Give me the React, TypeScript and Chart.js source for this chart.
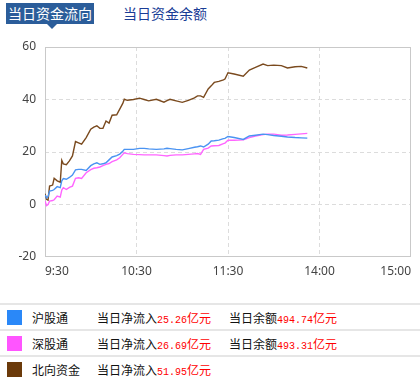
import React, { useEffect, useRef } from "react";
import { Chart, registerables } from "chart.js";

Chart.register(...registerables);

// minutes since 9:30 (trading minutes; 11:30 and 13:00 share position 120)
const minutes = [0, 1, 2, 3, 5, 6, 8, 10, 11, 12, 14, 16, 18, 20, 22, 24, 27, 30, 32, 34, 36, 38, 40, 42, 44, 47, 49, 51, 52, 54, 58, 62, 65, 68, 73, 78, 80, 82, 86, 90, 94, 98, 100, 102, 104, 107, 109, 111, 114, 117, 118, 120, 124, 130, 134, 138, 143, 146, 150, 155, 159, 164, 168, 172];
const northbound = [4.1, 2.0, 1.7, 7.0, 7.4, 10.0, 9.0, 8.5, 16.8, 15.5, 15.2, 16.6, 18.5, 24.0, 23.5, 23.0, 25.5, 28.7, 29.5, 30.0, 29.0, 29.0, 31.8, 31.0, 34.0, 34.2, 36.3, 38.5, 40.1, 39.7, 40.0, 40.5, 40.0, 39.5, 40.1, 39.0, 39.6, 40.1, 39.5, 38.9, 39.7, 40.6, 41.4, 41.4, 40.8, 44.0, 45.2, 46.5, 46.9, 47.5, 47.8, 50.2, 49.7, 48.9, 51.2, 52.2, 53.5, 52.9, 53.1, 52.9, 52.0, 52.5, 52.6, 52.0];
const shanghai = [3.6, 2.5, 3.0, 5.1, 5.4, 5.7, 6.8, 6.4, 9.0, 9.9, 9.6, 10.3, 11.2, 13.2, 13.4, 13.4, 13.0, 14.8, 15.5, 15.9, 15.3, 15.5, 15.9, 17.0, 18.1, 18.6, 19.2, 20.3, 21.0, 21.0, 21.0, 21.4, 21.4, 21.2, 21.0, 21.2, 21.4, 21.3, 21.0, 20.8, 21.3, 21.8, 22.0, 22.3, 21.9, 23.0, 24.2, 24.3, 24.5, 25.1, 25.2, 25.9, 25.5, 24.8, 26.1, 26.4, 26.8, 26.6, 26.3, 26.0, 25.7, 25.5, 25.4, 25.3];
const shenzhen = [1.3, -0.4, 0.0, 1.3, 1.5, 1.8, 3.2, 2.8, 5.5, 6.4, 5.7, 6.5, 7.0, 10.0, 10.2, 9.9, 12.1, 13.3, 13.8, 14.0, 14.3, 14.8, 15.3, 15.6, 16.3, 17.0, 17.8, 19.1, 19.7, 19.4, 19.1, 19.0, 18.9, 18.9, 18.9, 18.6, 18.5, 18.7, 18.9, 18.9, 19.1, 19.3, 19.4, 19.1, 21.0, 21.5, 22.3, 22.4, 22.5, 23.2, 23.4, 24.5, 24.5, 24.6, 25.5, 26.1, 26.6, 26.8, 26.8, 26.4, 26.5, 26.7, 26.9, 27.1];

const xTickValues = [0, 60, 120, 180, 240];
const xTickLabels = ["9:30", "10:30", "11:30", "14:00", "15:00"];
const yMin = -20;
const yMax = 60;
const yStep = 20;

const seriesNames = ["沪股通", "深股通", "北向资金"];
const seriesColors = ["#4a93f2", "#ff66ff", "#7a4a1e"];
const legendColors = ["#2a88f8", "#ff55ff", "#6b3a0a"];
const netInflow = ["25.26", "26.69", "51.95"];
const balances = ["494.74", "493.31", ""];

const borderBox = {
  id: "borderBox",
  beforeDatasetsDraw(chart: any) {
    const { ctx, chartArea } = chart;
    ctx.save();
    ctx.strokeStyle = "#c9c9c9";
    ctx.lineWidth = 1;
    ctx.strokeRect(
      Math.round(chartArea.left) + 0.5,
      Math.round(chartArea.top) + 0.5,
      Math.round(chartArea.right - chartArea.left) - 1,
      Math.round(chartArea.bottom - chartArea.top) - 1
    );
    ctx.restore();
  },
};

function FlowChart() {
  const ref = useRef<HTMLCanvasElement>(null);
  useEffect(() => {
    if (!ref.current) return;
    const mk = (vals: number[]) => vals.map((v, i) => ({ x: minutes[i], y: v }));
    const chart = new Chart(ref.current, {
      type: "line",
      data: {
        datasets: [
          { label: seriesNames[0], data: mk(shanghai), borderColor: seriesColors[0], borderWidth: 1.4 },
          { label: seriesNames[1], data: mk(shenzhen), borderColor: seriesColors[1], borderWidth: 1.4 },
          { label: seriesNames[2], data: mk(northbound), borderColor: seriesColors[2], borderWidth: 1.4 },
        ],
      },
      options: {
        animation: false,
        responsive: false,
        maintainAspectRatio: false,
        devicePixelRatio: 1,
        elements: { point: { radius: 0 }, line: { tension: 0 } },
        layout: { padding: { top: 17, right: 9, left: 0, bottom: 0 } },
        plugins: { legend: { display: false }, tooltip: { enabled: false } },
        scales: {
          x: {
            type: "linear",
            min: 0,
            max: 240,
            afterBuildTicks: (scale: any) => {
              scale.ticks = xTickValues.map((v) => ({ value: v }));
            },
            afterFit: (scale: any) => {
              scale.height = 33;
            },
            ticks: {
              autoSkip: false,
              maxRotation: 0,
              padding: 7,
              align: "inner",
              color: "#444",
              font: { family: "'Noto Sans', 'DejaVu Sans', sans-serif", size: 12 },
              callback: (v: any) => {
                const i = xTickValues.indexOf(Number(v));
                return i >= 0 ? xTickLabels[i] : "";
              },
            },
            grid: {
              drawTicks: false,
              lineWidth: 1,
              color: (c: any) =>
                c.tick && (c.tick.value === 0 || c.tick.value === 240) ? "rgba(0,0,0,0)" : "#dcdcdc",
            },
            border: { display: false, dash: [4, 3] },
          },
          y: {
            min: yMin,
            max: yMax,
            afterFit: (scale: any) => {
              scale.width = 45;
            },
            ticks: {
              stepSize: yStep,
              padding: 9,
              color: "#444",
              font: { family: "'Noto Sans', 'DejaVu Sans', sans-serif", size: 12 },
            },
            grid: {
              drawTicks: false,
              lineWidth: 1,
              color: (c: any) =>
                c.tick && (c.tick.value === yMax || c.tick.value === yMin) ? "rgba(0,0,0,0)" : "#dcdcdc",
            },
            border: { display: false, dash: [4, 3] },
          },
        },
      } as any,
      plugins: [borderBox],
    });
    return () => chart.destroy();
  }, []);
  return (
    <canvas
      ref={ref}
      width={420}
      height={260}
      style={{ position: "absolute", left: 0, top: 30, width: 420, height: 260 }}
    />
  );
}

export default function App() {
  useEffect(() => {
    document.body.style.margin = "0";
  }, []);
  const cjk = "'Noto Sans CJK SC', 'Noto Sans', sans-serif";
  const mono = "'Liberation Mono', 'DejaVu Sans Mono', monospace";
  return (
    <div style={{ position: "relative", width: 420, height: 382, overflow: "hidden", background: "#fff", fontFamily: cjk }}>
      {/* tabs */}
      <div
        style={{
          position: "absolute",
          left: 6,
          top: 3,
          width: 88,
          height: 21,
          background: "#2b5d9a",
          color: "#fff",
          fontSize: 14,
          lineHeight: "21px",
          textAlign: "center",
        }}
      >
        当日资金流向
      </div>
      <div
        style={{
          position: "absolute",
          left: 47,
          top: 24,
          width: 0,
          height: 0,
          borderLeft: "5px solid transparent",
          borderRight: "5px solid transparent",
          borderTop: "5px solid #2b5d9a",
        }}
      />
      <div
        style={{
          position: "absolute",
          left: 123,
          top: 3,
          height: 21,
          color: "#1a3d96",
          fontSize: 14,
          lineHeight: "21px",
        }}
      >
        当日资金余额
      </div>

      <FlowChart />

      {/* legend table */}
      {seriesNames.map((name, i) => {
        const top = 303 + i * 26;
        return (
          <div key={name} style={{ position: "absolute", left: 0, top, width: 420, height: 26 }}>
            <div style={{ position: "absolute", left: 0, top: 0, width: 420, height: 2, background: "#e6e6e6" }} />
            <div
              style={{
                position: "absolute",
                left: 7,
                top: 7,
                width: 15,
                height: 15,
                background: legendColors[i],
              }}
            />
            <div style={{ position: "absolute", left: 32, top: 2, lineHeight: "26px", fontSize: 12, color: "#111" }}>
              {name}
            </div>
            <div style={{ position: "absolute", left: 97, top: 2, lineHeight: "26px", fontSize: 12, color: "#111", whiteSpace: "nowrap" }}>
              当日净流入
              <span style={{ color: "#ff0000", fontFamily: mono, fontSize: 10 }}>{netInflow[i]}</span>
              <span style={{ color: "#ff0000" }}>亿元</span>
            </div>
            {balances[i] ? (
              <div style={{ position: "absolute", left: 229, top: 2, lineHeight: "26px", fontSize: 12, color: "#111", whiteSpace: "nowrap" }}>
                当日余额
                <span style={{ color: "#ff0000", fontFamily: mono, fontSize: 10 }}>{balances[i]}</span>
                <span style={{ color: "#ff0000" }}>亿元</span>
              </div>
            ) : null}
          </div>
        );
      })}
    </div>
  );
}
